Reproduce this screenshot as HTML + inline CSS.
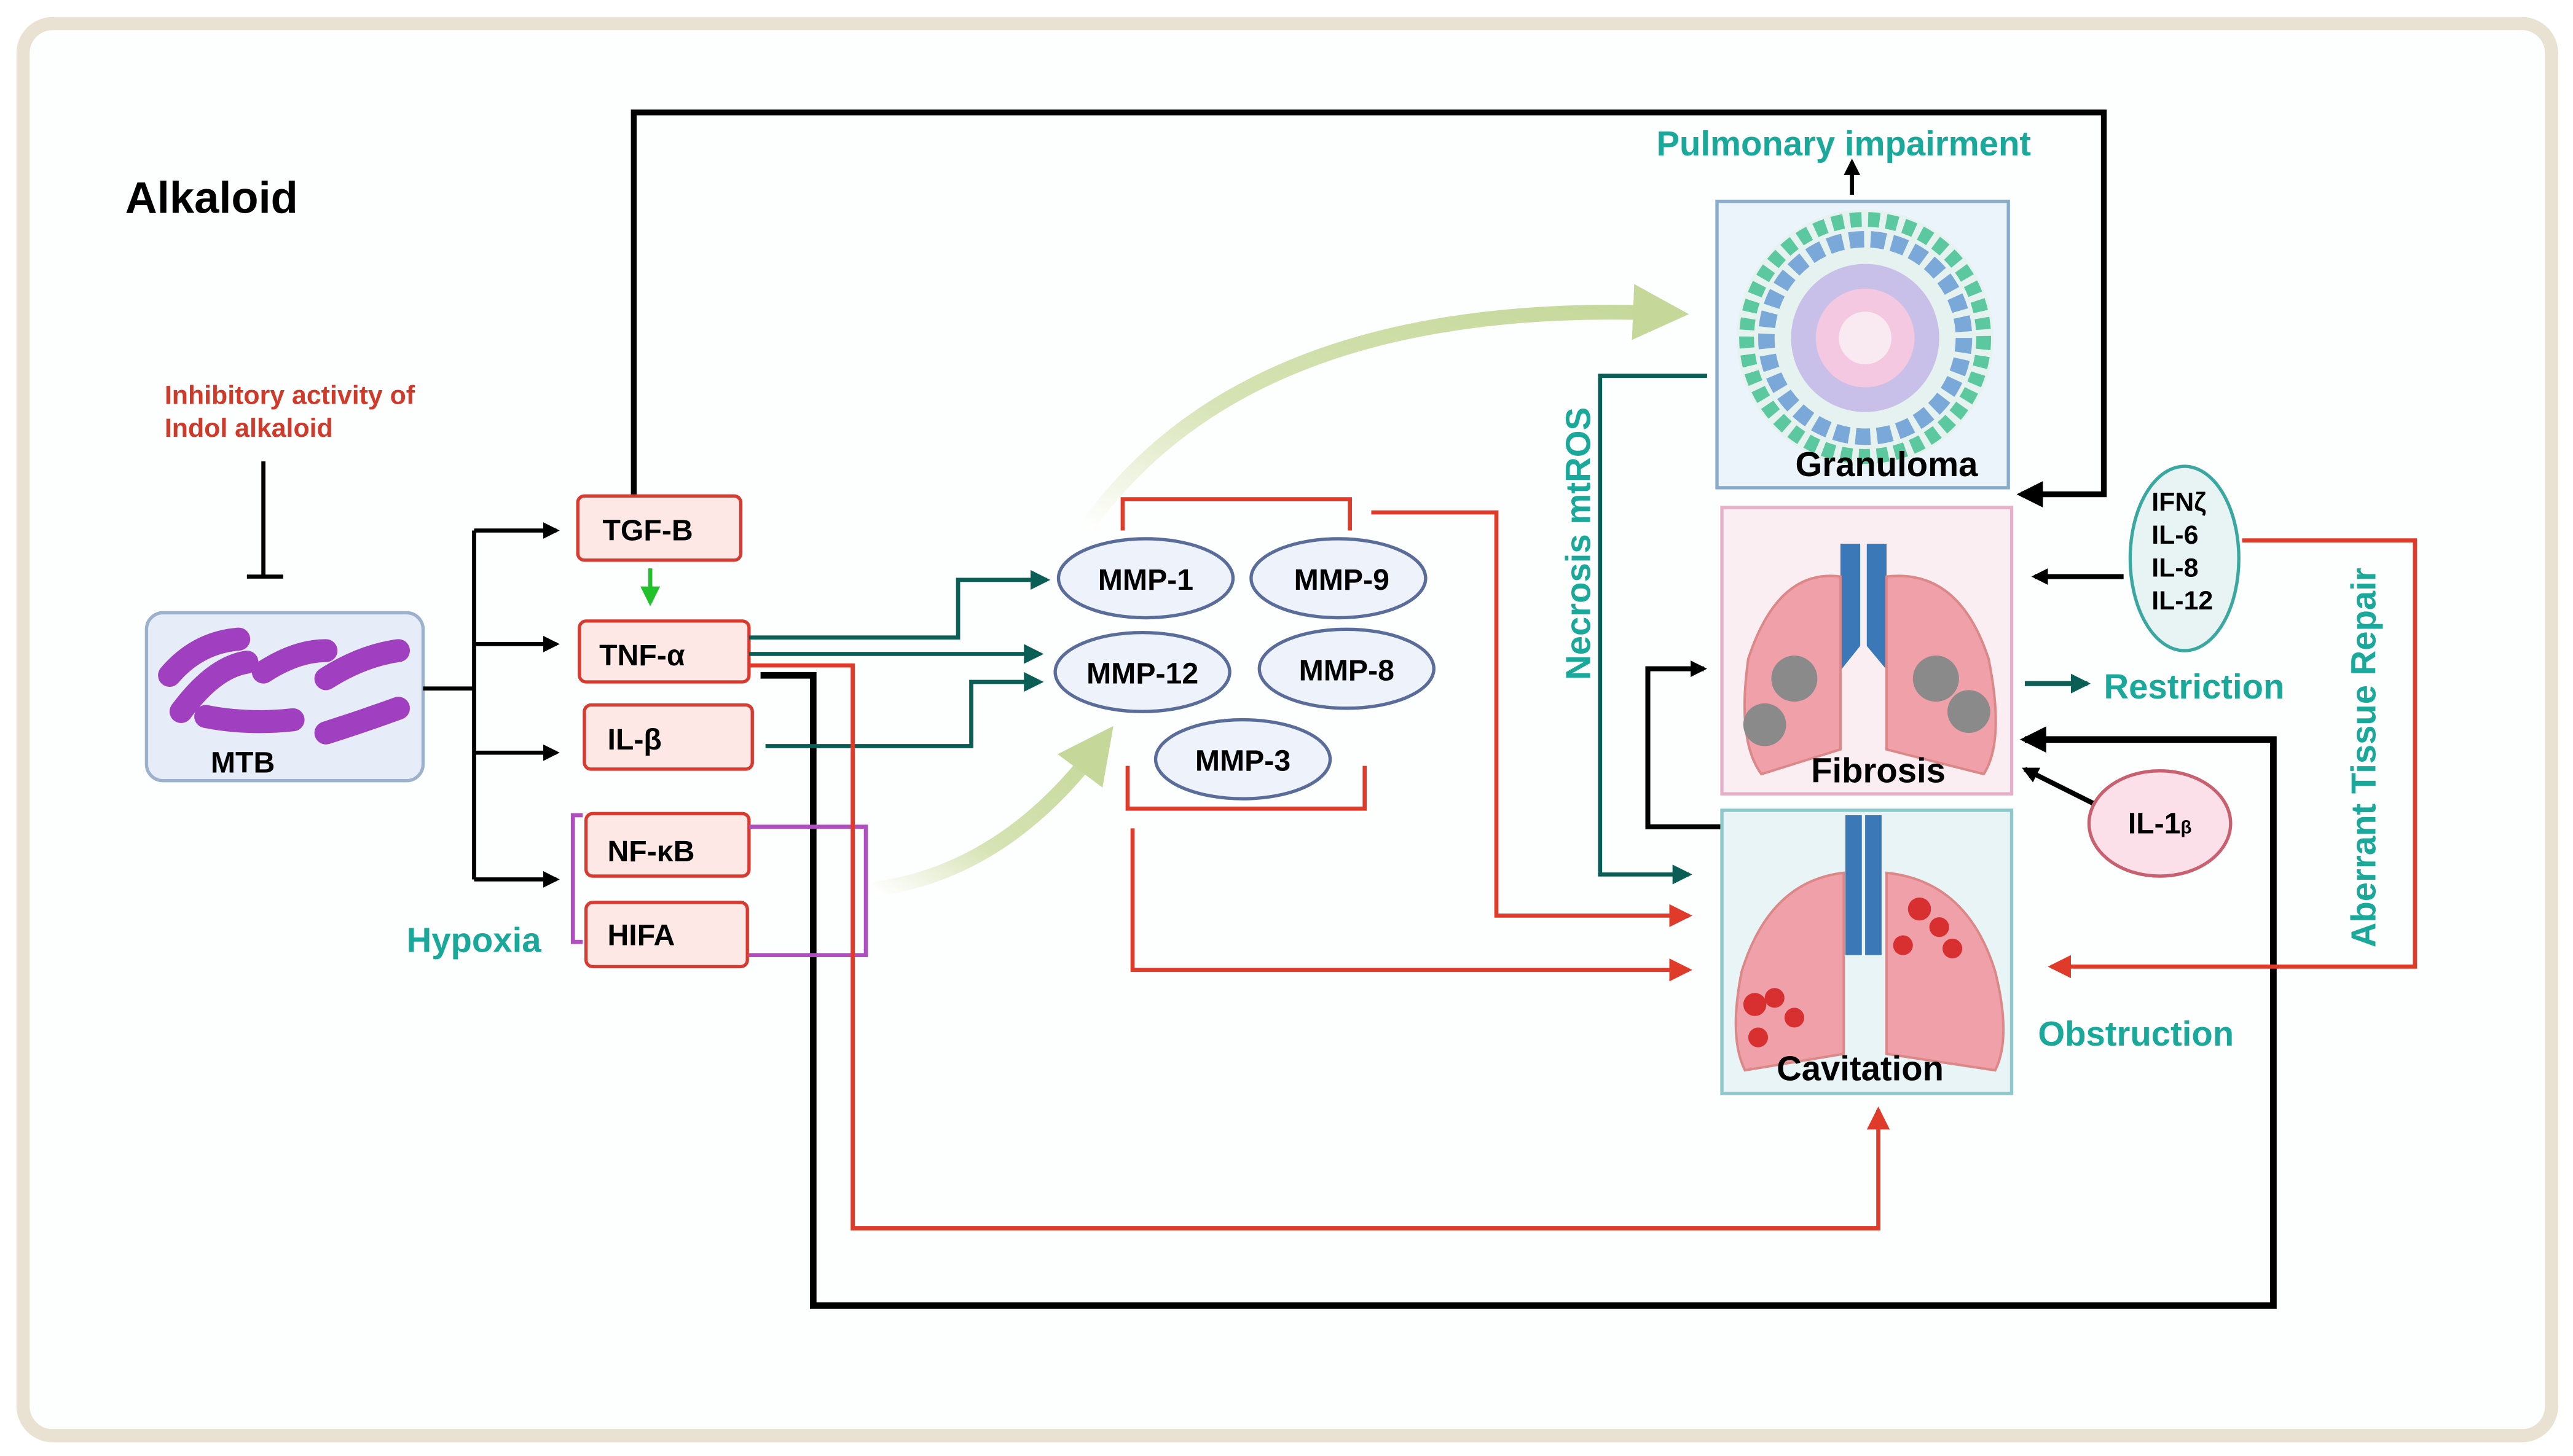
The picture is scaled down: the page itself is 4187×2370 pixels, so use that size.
<!DOCTYPE html>
<html><head><meta charset="utf-8"><style>
html,body{margin:0;padding:0;background:#fff}
svg{display:block}
text{font-family:"Liberation Sans",sans-serif;font-weight:bold}
</style></head><body>
<svg width="4187" height="2370" viewBox="0 0 1563 884" xmlns="http://www.w3.org/2000/svg">
<defs>
<marker id="ab" markerWidth="10" markerHeight="10" refX="8" refY="5" orient="auto" markerUnits="userSpaceOnUse"><path d="M0,0L10,5L0,10z" fill="#000"/></marker>
<marker id="abk" markerWidth="16" markerHeight="16" refX="13" refY="8" orient="auto" markerUnits="userSpaceOnUse"><path d="M0,0L16,8L0,16z" fill="#000"/></marker>
<marker id="at" markerWidth="12" markerHeight="12" refX="10" refY="6" orient="auto" markerUnits="userSpaceOnUse"><path d="M0,0L12,6L0,12z" fill="#0b5e55"/></marker>
<marker id="ar" markerWidth="14" markerHeight="14" refX="12" refY="7" orient="auto" markerUnits="userSpaceOnUse"><path d="M0,0L14,7L0,14z" fill="#e03a2a"/></marker>
<marker id="ag" markerWidth="12" markerHeight="12" refX="10" refY="6" orient="auto" markerUnits="userSpaceOnUse"><path d="M0,0L12,6L0,12z" fill="#22c02a"/></marker>
<marker id="alg" markerWidth="34" markerHeight="34" refX="20" refY="17" orient="auto" markerUnits="userSpaceOnUse"><path d="M0,0L34,17L0,34z" fill="#c5d89a"/></marker>
<linearGradient id="lg1" x1="0" y1="1" x2="1" y2="0"><stop offset="0" stop-color="#fff"/><stop offset="0.4" stop-color="#d6e3b4"/><stop offset="1" stop-color="#c5d89a"/></linearGradient>
</defs>
<rect x="0" y="0" width="1563" height="884" fill="#fff"/>
<rect x="14" y="14" width="1536" height="858" rx="18" fill="#fdfefe" stroke="#e9e2d2" stroke-width="8"/>

<text x="76" y="129" font-size="27" fill="#000">Alkaloid</text>
<text x="100" y="245" font-size="16" fill="#d03a2a">Inhibitory activity of</text>
<text x="100" y="265" font-size="16" fill="#d03a2a">Indol alkaloid</text>
<path d="M160,280V350M150,350H172" stroke="#000" stroke-width="2.5" fill="none"/>

<rect x="89" y="372" width="168" height="102" rx="10" fill="#e6edf8" stroke="#9db0cc" stroke-width="2"/>
<g stroke="#a040c0" stroke-width="14" stroke-linecap="round" fill="none">
<path d="M103,410Q120,390 145,388"/><path d="M110,432Q130,405 150,402"/><path d="M160,408Q180,395 198,395"/>
<path d="M198,412Q220,398 242,395"/><path d="M125,435Q150,440 178,437"/><path d="M198,445Q220,438 242,430"/>
</g>
<text x="128" y="469" font-size="18" fill="#000">MTB</text>

<g stroke="#000" stroke-width="2.5" fill="none">
<path d="M257,418H288M288,322V534"/>
<path d="M288,322H338" marker-end="url(#ab)"/><path d="M288,391H338" marker-end="url(#ab)"/>
<path d="M288,457H338" marker-end="url(#ab)"/><path d="M288,534H338" marker-end="url(#ab)"/>
<path d="M385,301V68H1278V300H1228" stroke-width="3.5" marker-end="url(#abk)"/>
<path d="M462,410H494V793H1381V449H1230" stroke-width="4" marker-end="url(#abk)"/>
<path d="M1125,118V98" marker-end="url(#ab)"/>
<path d="M1046,502H1001V406H1035" stroke-width="3" marker-end="url(#ab)"/>
<path d="M1290,350H1236" stroke-width="3" marker-end="url(#ab)"/>
<path d="M1272,488L1230,467" stroke-width="3" marker-end="url(#ab)"/>
</g>

<g fill="#fde8e6" stroke="#d83a30" stroke-width="2">
<rect x="351" y="301" width="99" height="39" rx="4"/><rect x="352" y="377" width="103" height="37" rx="4"/>
<rect x="355" y="428" width="102" height="39" rx="4"/><rect x="356" y="494" width="99" height="38" rx="4"/>
<rect x="356" y="548" width="98" height="39" rx="4"/>
</g>
<g font-size="18" fill="#000">
<text x="366" y="328">TGF-B</text><text x="364" y="404">TNF-α</text><text x="369" y="455">IL-β</text>
<text x="369" y="523">NF-κB</text><text x="369" y="574">HIFA</text>
</g>
<path d="M395,345V366" stroke="#22c02a" stroke-width="2.5" marker-end="url(#ag)"/>
<path d="M354,495H348V572H354M455,502H526V580H455" stroke="#b050c0" stroke-width="2.5" fill="none"/>
<text x="247" y="578" font-size="21" fill="#1aa89a">Hypoxia</text>

<g stroke="#0b5e55" stroke-width="2.5" fill="none">
<path d="M455,387H582V352H636" marker-end="url(#at)"/>
<path d="M455,397H632" marker-end="url(#at)"/>
<path d="M465,453H590V414H632" marker-end="url(#at)"/>
<path d="M1037,228H972V531H1026" marker-end="url(#at)"/>
<path d="M1230,415H1268" stroke-width="3" marker-end="url(#at)"/>
</g>

<path d="M660,320Q760,180 1012,190" stroke="url(#lg1)" stroke-width="9" fill="none" marker-end="url(#alg)"/>
<path d="M530,540Q610,530 668,452" stroke="url(#lg1)" stroke-width="9" fill="none" marker-end="url(#alg)"/>

<g stroke="#e03a2a" stroke-width="2.5" fill="none">
<path d="M682,322V303H820V322"/><path d="M685,465V491H829V465"/>
<path d="M833,311H909V556H1026" marker-end="url(#ar)"/>
<path d="M688,503V589H1026" marker-end="url(#ar)"/>
<path d="M455,404H518V746H1141V674" marker-end="url(#ar)"/>
<path d="M1362,328H1467V587H1246" marker-end="url(#ar)"/>
</g>

<g fill="#eef2fa" stroke="#5a6c9a" stroke-width="2">
<ellipse cx="696" cy="351" rx="53" ry="24"/><ellipse cx="813" cy="351" rx="53" ry="24"/>
<ellipse cx="694" cy="408" rx="53" ry="24"/><ellipse cx="818" cy="406" rx="53" ry="24"/>
<ellipse cx="755" cy="461" rx="53" ry="24"/>
</g>
<g font-size="18" fill="#000" text-anchor="middle">
<text x="696" y="358">MMP-1</text><text x="815" y="358">MMP-9</text><text x="694" y="415">MMP-12</text>
<text x="818" y="413">MMP-8</text><text x="755" y="468">MMP-3</text>
</g>

<text x="1120" y="94" font-size="21" fill="#1aa89a" text-anchor="middle">Pulmonary impairment</text>
<rect x="1043" y="122" width="177" height="174" fill="#eaf4fa" stroke="#8aaccc" stroke-width="2"/>
<circle cx="1133" cy="205" r="78" fill="#e6f2ef"/>
<circle cx="1133" cy="205" r="72" fill="none" stroke="#5cc8a0" stroke-width="9" stroke-dasharray="7 4"/>
<circle cx="1133" cy="205" r="60" fill="none" stroke="#7aa8d8" stroke-width="10" stroke-dasharray="9 4"/>
<circle cx="1133" cy="205" r="45" fill="#c8c0e8"/>
<circle cx="1133" cy="205" r="30" fill="#f4c8e0"/>
<circle cx="1133" cy="205" r="16" fill="#f8eaf0"/>
<text x="1146" y="289" font-size="21" fill="#000" text-anchor="middle">Granuloma</text>

<rect x="1046" y="308" width="176" height="174" fill="#fbeef2" stroke="#e8b0c8" stroke-width="2"/>
<path d="M1124,330V390L1100,420M1140,330V390L1165,420" stroke="#3a78b8" stroke-width="12" fill="none"/>
<path d="M1118,350Q1080,345 1062,400Q1055,450 1070,470L1118,455Z" fill="#f0a0a8" stroke="#d88" stroke-width="1.5"/>
<path d="M1146,350Q1190,345 1208,400Q1218,450 1205,470L1146,455Z" fill="#f0a0a8" stroke="#d88" stroke-width="1.5"/>
<g fill="#8a8a8a"><circle cx="1090" cy="412" r="14"/><circle cx="1072" cy="440" r="13"/><circle cx="1176" cy="412" r="14"/><circle cx="1196" cy="432" r="13"/></g>
<text x="1141" y="475" font-size="21" fill="#000" text-anchor="middle">Fibrosis</text>

<rect x="1046" y="492" width="176" height="172" fill="#e8f4f6" stroke="#8cc8cc" stroke-width="2"/>
<path d="M1126,495V580M1138,495V580" stroke="#3a78b8" stroke-width="10" fill="none"/>
<path d="M1120,530Q1075,535 1058,590Q1050,630 1060,650L1120,640Z" fill="#f0a0a8" stroke="#d88" stroke-width="1.5"/>
<path d="M1146,530Q1195,535 1212,590Q1222,630 1212,650L1146,640Z" fill="#f0a0a8" stroke="#d88" stroke-width="1.5"/>
<g fill="#d83030"><circle cx="1066" cy="610" r="7"/><circle cx="1078" cy="606" r="6"/><circle cx="1090" cy="618" r="6"/><circle cx="1068" cy="630" r="6"/><circle cx="1166" cy="552" r="7"/><circle cx="1178" cy="563" r="6"/><circle cx="1156" cy="574" r="6"/><circle cx="1186" cy="576" r="6"/></g>
<text x="1130" y="656" font-size="21" fill="#000" text-anchor="middle">Cavitation</text>

<text transform="translate(966,330) rotate(-90)" font-size="21" fill="#1aa89a" text-anchor="middle">Necrosis mtROS</text>
<text transform="translate(1443,460) rotate(-90)" font-size="21" fill="#1aa89a" text-anchor="middle">Aberrant Tissue Repair</text>

<ellipse cx="1327" cy="339" rx="33" ry="56" fill="#e8f4f4" stroke="#3aa8a0" stroke-width="2"/>
<g font-size="16" fill="#000"><text x="1307" y="310">IFNζ</text><text x="1307" y="330">IL-6</text><text x="1307" y="350">IL-8</text><text x="1307" y="370">IL-12</text></g>
<ellipse cx="1312" cy="500" rx="43" ry="32" fill="#fbe0ea" stroke="#c86070" stroke-width="2"/>
<text x="1312" y="506" font-size="18" fill="#000" text-anchor="middle">IL-1<tspan font-size="11">β</tspan></text>
<text x="1278" y="424" font-size="21" fill="#1aa89a">Restriction</text>
<text x="1238" y="635" font-size="21" fill="#1aa89a">Obstruction</text>
</svg>
</body></html>
